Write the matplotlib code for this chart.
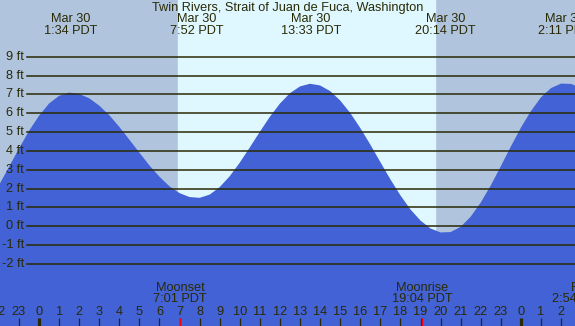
import matplotlib
matplotlib.use('Agg')
import matplotlib.pyplot as plt

# tide height (ft), every half hour, hours since midnight Mar 30
hours = [-2, -1.5, -1, -0.5, 0, 0.5, 1, 1.5, 2, 2.5, 3, 3.5, 4, 4.5, 5, 5.5, 6, 6.5,
         7, 7.5, 8, 8.5, 9, 9.5, 10, 10.5, 11, 11.5, 12, 12.5, 13, 13.5, 14, 14.5,
         15, 15.5, 16, 16.5, 17, 17.5, 18, 18.5, 19, 19.5, 20, 20.5, 21, 21.5, 22,
         22.5, 23, 23.5, 24, 24.5, 25, 25.5, 26, 26.5, 27]
height = [2.17, 3.14, 4.12, 5.06, 5.87, 6.52, 6.93, 7.10, 7.03, 6.80, 6.41, 5.90,
          5.28, 4.60, 3.91, 3.23, 2.63, 2.12, 1.76, 1.55, 1.51, 1.68, 2.08, 2.66,
          3.38, 4.19, 5.02, 5.82, 6.52, 7.07, 7.43, 7.57, 7.48, 7.18, 6.68, 6.02,
          5.22, 4.34, 3.41, 2.49, 1.64, 0.89, 0.30, -0.12, -0.33, -0.31, -0.03,
          0.51, 1.26, 2.17, 3.19, 4.24, 5.24, 6.12, 6.85, 7.34, 7.58, 7.56, 7.34]

# high / low tide labels
tide_times = [1 + 34/60., 7 + 52/60., 13 + 33/60., 20 + 14/60., 26 + 11/60.]
tide_labels = ['1:34 PDT', '7:52 PDT', '13:33 PDT', '20:14 PDT', '2:11 PDT']

# moon events
moon_times = [7 + 1/60., 19 + 4/60., 26 + 54/60.]
moon_names = ['Moonset', 'Moonrise', 'Full Moon']
moon_labels = ['7:01 PDT', '19:04 PDT', '2:54 PDT']

sunrise = 6.92
sunset = 19.72

ft_levels = [9, 8, 7, 6, 5, 4, 3, 2, 1, 0, -1, -2]
hour_ticks = list(range(-2, 27))

title = 'Twin Rivers, Strait of Juan de Fuca, Washington'

night_col = '#b0c4de'
day_col = '#dff7ff'
water_col = '#4262d6'
ink = '#2a2a05'
FS = 9.2

XMIN, XMAX = -1.942, 26.693
YMIN, YMAX = -5.30, 12.02

fig = plt.figure(figsize=(5.75, 3.26), dpi=100)
ax = fig.add_axes([0, 0, 1, 1])
ax.set_xlim(XMIN, XMAX)
ax.set_ylim(YMIN, YMAX)
ax.axis('off')

ax.axvspan(XMIN, XMAX, color=night_col, zorder=0)
ax.axvspan(sunrise, sunset, color=day_col, zorder=1)
ax.fill_between(hours, YMIN, height, color=water_col, lw=0, zorder=2)

# grid lines with labels
for lv in ft_levels:
    ax.plot([-0.6, XMAX], [lv, lv], color=ink, lw=1.1, zorder=3)
    ax.text(-0.75, lv, '%d ft' % lv, ha='right', va='center', fontsize=FS,
            family='Liberation Sans', color=ink, zorder=4)

ax.text(12.4, 11.6, title, ha='center', va='center', fontsize=FS,
        family='Liberation Sans', color=ink)

for t, lab in zip(tide_times, tide_labels):
    ax.text(t, 10.99, 'Mar 30', ha='center', va='center', fontsize=FS,
            family='Liberation Sans', color=ink)
    ax.text(t, 10.35, lab, ha='center', va='center', fontsize=FS,
            family='Liberation Sans', color=ink)

for t, nm, lab in zip(moon_times, moon_names, moon_labels):
    if t < XMAX - 0.5:
        ax.text(t, -3.28, nm, ha='center', va='center', fontsize=FS,
                family='Liberation Sans', color=ink)
    else:
        ax.text(26.5, -3.28, nm, ha='left', va='center', fontsize=FS,
                family='Liberation Sans', color=ink)
    ax.text(t, -3.89, lab, ha='center', va='center', fontsize=FS,
            family='Liberation Sans', color=ink)

# hour ticks along the bottom
for h in hour_ticks:
    ax.text(h, -4.54, str(h % 24), ha='center', va='center', fontsize=FS,
            family='Liberation Sans', color=ink)
    lw = 2.3 if h % 24 == 0 else 0.9
    ax.plot([h, h], [-4.88, YMIN], color=ink, lw=lw, solid_capstyle='butt', zorder=3)

for t in moon_times:
    ax.plot([t, t], [-4.88, YMIN], color='red', lw=1.0, solid_capstyle='butt', zorder=4)

plt.savefig('out.png', dpi=100)
plt.close()
